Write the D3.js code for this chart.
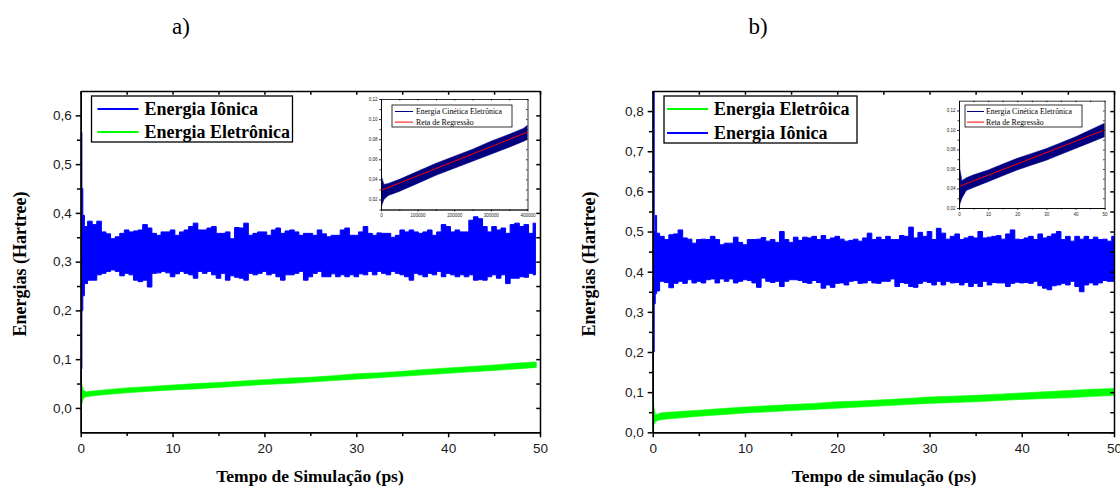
<!DOCTYPE html>
<html>
<head>
<meta charset="utf-8">
<script src="https://cdn.jsdelivr.net/npm/d3@7"></script>
<style>
body { margin: 0; background: #fff; }
</style>
</head>
<body>
<div id="chart"></div>
<script>
// energies are in mHartree (thousandths of Hartree)

// panel a) envelopes of the ionic energy, one pair every 0.5 ps (0.5 .. 49.5)
var ionHeadTimeA = [0, 0.1, 0.16, 0.3];
var ionHeadLoA = [50, 80, 200, 230];
var ionHeadHiA = [565, 565, 450, 395];
var ionHiA = [372,383,376,383,361,357,347,351,358,365, 361,363,365,376,369,358,354,361,361,365,
  354,361,365,372,379,365,365,369,372,358, 358,361,347,370,369,379,354,358,361,361,
  354,365,369,358,363,365,361,354,358,358, 354,365,357,351,354,354,365,369,354,354,
  361,372,358,354,359,358,358,350,354,365, 361,365,361,358,361,365,354,361,376,372,
  361,365,361,361,385,392,388,372,361,372, 365,369,358,376,379,372,376,358,379];
var ionLoA = [255,262,262,273,276,280,283,280,271,276, 273,262,259,262,248,276,277,280,277,269,
  275,280,276,273,266,280,276,280,273,266, 276,262,271,268,266,262,276,273,276,280,
  273,276,269,262,273,273,276,280,262,269, 276,280,269,269,275,269,273,269,273,269,
  275,273,280,273,280,276,273,280,276,273, 269,262,276,273,269,276,273,280,269,276,
  273,269,273,269,273,262,263,262,269,273, 266,273,255,266,266,269,268,276,273];

// panel a) electronic energy band
var eleTimeA = [0, 0.15, 0.3, 0.6, 1, 2.5, 5, 7.5, 10, 12.5, 15, 17.5, 20, 22.5, 25, 27.5, 30, 32.5, 35, 37.5, 40, 42.5, 45, 47.5, 49.6];
var eleLoA = [5,10,20,23,24,27,31,34,37,39,42,45,48,50,53,56,59,62,65,68,71,74,77,80,83];
var eleHiA = [53,45,36,33,34,37,41,44,47,50,52,55,58,61,63,66,70,72,75,79,82,85,88,92,94];

// panel b) envelopes of the ionic energy, one pair every 0.5 ps (0.5 .. 50)
var ionHeadTimeB = [0, 0.12, 0.2, 0.35];
var ionHeadLoB = [88, 200, 320, 345];
var ionHeadHiB = [900, 900, 500, 540];
var ionHiB = [496,488,480,492,494,504,484,481,471,480, 481,480,488,480,467,471,471,486,473,467,
  480,480,481,485,476,480,473,500,480,473, 486,478,486,484,488,480,490,480,484,488,
  481,476,478,481,476,484,496,480,486,480, 488,480,480,490,488,511,484,498,488,500,
  480,508,496,481,488,494,480,484,488,484, 500,484,486,488,490,481,494,504,481,480,
  484,488,480,494,484,488,494,500,480,488, 476,488,481,488,480,486,480,481,476,488];
var ionLoB = [352,376,373,360,371,376,371,380,372,376, 372,380,382,372,382,376,382,372,376,380,
  378,372,361,384,376,373,376,363,376,380, 380,378,373,371,378,373,359,367,361,371,
  372,367,376,378,371,372,378,372,371,376, 376,382,363,373,371,363,361,371,376,373,
  367,376,367,376,372,373,367,373,363,371, 363,376,367,373,372,372,363,371,374,372,
  373,371,376,365,359,355,365,367,371,367, 376,363,350,367,372,367,372,378,376,376];

// panel b) electronic energy band
var eleTimeB = [0, 0.15, 0.3, 0.6, 1, 2.5, 5, 7.5, 10, 12.5, 15, 17.5, 20, 22.5, 25, 27.5, 30, 32.5, 35, 37.5, 40, 42.5, 45, 47.5, 50];
var eleLoB = [6,20,26,30,32,35,40,44,48,51,54,57,60,63,66,69,72,74,76,79,82,84,86,89,92];
var eleHiB = [88,60,43,46,49,51,55,59,63,66,69,72,76,78,81,84,88,90,92,95,98,101,104,107,109];

// insets: electronic kinetic energy band + regression line
var insetTimeA = [0, 2000, 8000, 20000, 50000, 100000, 150000, 200000, 250000, 300000, 350000, 390000, 400000];
var insetLoA = [11,14,20,24,28,36,44,51,58,65,72,78,80];
var insetHiA = [52,42,35,36,40,48,56,63,70,78,85,91,94];
var regTimeA = [0, 400000];
var regA = [29, 87];

var insetTimeB = [0, 0.3, 1, 2.5, 5, 10, 15, 20, 25, 30, 35, 40, 45, 50];
var insetLoB = [20,24,30,38,41,47,53,59,64,69,75,81,87,93];
var insetHiB = [92,60,48,51,54,59,65,71,76,81,87,93,100,107];
var regTimeB = [0, 50];
var regB = [42, 100];

// tick labels
var xTicksMain = [0, 10, 20, 30, 40, 50];
var yTicksA = [0, 0.1, 0.2, 0.3, 0.4, 0.5, 0.6];
var yTicksB = [0, 0.1, 0.2, 0.3, 0.4, 0.5, 0.6, 0.7, 0.8];
var xTicksInsetA = [0, 100000, 200000, 300000, 400000];
var xTicksInsetB = [0, 10, 20, 30, 40, 50];
var yTicksInset = [0.02, 0.04, 0.06, 0.08, 0.10, 0.12];

var BLUE = "#0000ff", GREEN = "#00ff00", NAVY = "#000080", RED = "#ff0000";
var SANS = "'Liberation Sans', Arial, sans-serif";
var SERIF = "'Liberation Serif', 'Times New Roman', serif";

function band(times, lo, hi) {
  return times.map(function (t, i) { return { t: t, lo: lo[i] / 1000, hi: hi[i] / 1000 }; });
}
function gridTimes(n) {
  return d3.range(1, n + 1).map(function (i) { return i / 2; });
}
function comma(fmt) {
  return function (d) { return d3.format(fmt)(d).replace(".", ","); };
}

var svg = d3.select("#chart").append("svg")
  .attr("width", 1120)
  .attr("height", 487)
  .style("background", "#fff");

function styleAxis(sel, w, fontSize) {
  sel.select(".domain").attr("stroke", "#000").attr("stroke-width", w);
  sel.selectAll(".tick line").attr("stroke", "#000").attr("stroke-width", w);
  sel.selectAll(".tick text").attr("fill", "#1a1a1a")
    .style("font-family", SANS).style("font-size", fontSize + "px");
}

function drawFrame(o) {
  var x = d3.scaleLinear().domain(o.xDomain).range([o.left, o.right]);
  var y = d3.scaleLinear().domain(o.yDomain).range([o.bottom, o.top]);
  var g = svg.append("g");

  g.append("rect").attr("x", o.left).attr("y", o.top)
    .attr("width", o.right - o.left).attr("height", o.bottom - o.top)
    .attr("fill", "#fff");

  g.append("clipPath").attr("id", o.id).append("rect")
    .attr("x", o.left).attr("y", o.top)
    .attr("width", o.right - o.left).attr("height", o.bottom - o.top);
  var plot = g.append("g").attr("clip-path", "url(#" + o.id + ")");

  o.series.forEach(function (s) {
    var area = d3.area()
      .curve(s.curve || d3.curveLinear)
      .x(function (d) { return x(d.t); })
      .y0(function (d) { return y(d.lo); })
      .y1(function (d) { return y(d.hi); });
    plot.append("path").datum(s.data)
      .attr("d", area)
      .attr("fill", s.color)
      .attr("stroke", s.color)
      .attr("stroke-width", s.sw);
  });
  if (o.reg) {
    plot.append("path").datum(o.reg)
      .attr("d", d3.line().x(function (d) { return x(d.t); }).y(function (d) { return y(d.v); }))
      .attr("fill", "none").attr("stroke", RED).attr("stroke-width", o.regW);
  }

  var w = o.axisW, ts = o.tick, fs = o.font;
  var bottom = g.append("g").attr("transform", "translate(0," + o.bottom + ")")
    .call(d3.axisBottom(x).tickValues(o.xTicks).tickFormat(o.xFormat).tickSize(ts).tickSizeOuter(0).tickPadding(o.xPad));
  styleAxis(bottom, w, fs);
  var bottomMinor = g.append("g").attr("transform", "translate(0," + o.bottom + ")")
    .call(d3.axisBottom(x).tickValues(o.xMinor).tickFormat("").tickSize(ts * 0.75).tickSizeOuter(0));
  styleAxis(bottomMinor, w, fs);

  var left = g.append("g").attr("transform", "translate(" + o.left + ",0)")
    .call(d3.axisLeft(y).tickValues(o.yTicks).tickFormat(o.yFormat).tickSize(ts).tickSizeOuter(0).tickPadding(o.yPad));
  styleAxis(left, w, fs);
  var leftMinor = g.append("g").attr("transform", "translate(" + o.left + ",0)")
    .call(d3.axisLeft(y).tickValues(o.yMinor).tickFormat("").tickSize(ts * 0.75).tickSizeOuter(0));
  styleAxis(leftMinor, w, fs);

  var top = g.append("g").attr("transform", "translate(0," + o.top + ")")
    .call(d3.axisTop(x).tickValues(o.xTicks.concat(o.xMinor)).tickFormat("").tickSize(-ts * 0.75).tickSizeOuter(0));
  styleAxis(top, w, fs);
  var right = g.append("g").attr("transform", "translate(" + o.right + ",0)")
    .call(d3.axisRight(y).tickValues(o.yTicks.concat(o.yMinor)).tickFormat("").tickSize(-ts * 0.75).tickSizeOuter(0));
  styleAxis(right, w, fs);

  return g;
}

function drawLegend(o) {
  var g = svg.append("g");
  g.append("rect").attr("x", o.x).attr("y", o.y).attr("width", o.w).attr("height", o.h)
    .attr("fill", "#fff").attr("stroke", "#000").attr("stroke-width", o.bw);
  o.items.forEach(function (it, i) {
    var cy = o.y + o.first + i * o.gap;
    g.append("line").attr("x1", o.x + o.l1).attr("x2", o.x + o.l2)
      .attr("y1", cy).attr("y2", cy)
      .attr("stroke", it.color).attr("stroke-width", o.lw);
    g.append("text").attr("x", o.x + o.tx).attr("y", cy)
      .attr("dy", "0.35em")
      .style("font-family", SERIF).style("font-size", o.fs + "px")
      .style("font-weight", o.weight)
      .text(it.label);
  });
}

// ---------- panel a) ----------
var ionA = band(ionHeadTimeA, ionHeadLoA, ionHeadHiA).concat(band(gridTimes(99), ionLoA, ionHiA));
var eleA = band(eleTimeA, eleLoA, eleHiA);

drawFrame({
  id: "clipA", left: 80.7, right: 540, top: 91, bottom: 432.3,
  xDomain: [0, 50], yDomain: [-0.05, 0.65],
  series: [{ data: ionA, color: BLUE, sw: 1, curve: d3.curveStep }, { data: eleA, color: GREEN, sw: 0.6 }],
  xTicks: xTicksMain, xMinor: [5, 15, 25, 35, 45], xFormat: d3.format("d"),
  yTicks: yTicksA, yMinor: [0.05, 0.15, 0.25, 0.35, 0.45, 0.55], yFormat: comma(".1f"),
  axisW: 1.5, tick: 5, font: 13.5, xPad: 6, yPad: 4
});

drawLegend({
  x: 91.5, y: 96, w: 201, h: 46, bw: 1.3, first: 13, gap: 23,
  l1: 6, l2: 47, tx: 53, lw: 2, fs: 18, weight: "bold",
  items: [{ label: "Energia Iônica", color: BLUE }, { label: "Energia Eletrônica", color: GREEN }]
});

// inset a)
drawFrame({
  id: "clipIA", left: 381, right: 527.5, top: 99, bottom: 209.5,
  xDomain: [0, 400000], yDomain: [0.01, 0.12],
  series: [{ data: band(insetTimeA, insetLoA, insetHiA), color: NAVY, sw: 0.5 }],
  reg: regTimeA.map(function (t, i) { return { t: t, v: regA[i] / 1000 }; }), regW: 1,
  xTicks: xTicksInsetA, xMinor: [50000, 150000, 250000, 350000], xFormat: d3.format("d"),
  yTicks: yTicksInset, yMinor: [0.01, 0.03, 0.05, 0.07, 0.09, 0.11], yFormat: comma(".2f"),
  axisW: 0.8, tick: 2, font: 4.5, xPad: 2.5, yPad: 1.5
});

drawLegend({
  x: 392, y: 105, w: 120, h: 22, bw: 0.8, first: 6.5, gap: 10.6,
  l1: 3, l2: 21, tx: 24, lw: 1, fs: 7.8, weight: "normal",
  items: [{ label: "Energia Cinética Eletrônica", color: NAVY }, { label: "Reta de Regressão", color: RED }]
});

// ---------- panel b) ----------
var ionB = band(ionHeadTimeB, ionHeadLoB, ionHeadHiB).concat(band(gridTimes(100), ionLoB, ionHiB));
var eleB = band(eleTimeB, eleLoB, eleHiB);

drawFrame({
  id: "clipB", left: 652.7, right: 1114, top: 91, bottom: 432.3,
  xDomain: [0, 50], yDomain: [0, 0.85],
  series: [{ data: ionB, color: BLUE, sw: 1, curve: d3.curveStep }, { data: eleB, color: GREEN, sw: 0.6 }],
  xTicks: xTicksMain, xMinor: [5, 15, 25, 35, 45], xFormat: d3.format("d"),
  yTicks: yTicksB, yMinor: [0.05, 0.15, 0.25, 0.35, 0.45, 0.55, 0.65, 0.75], yFormat: comma(".1f"),
  axisW: 1.5, tick: 5, font: 13.5, xPad: 6, yPad: 4
});

drawLegend({
  x: 664, y: 96, w: 193, h: 47, bw: 1.3, first: 13, gap: 24,
  l1: 3, l2: 44, tx: 50, lw: 2, fs: 18, weight: "bold",
  items: [{ label: "Energia Eletrôica", color: GREEN }, { label: "Energia Iônica", color: BLUE }]
});

// inset b)
drawFrame({
  id: "clipIB", left: 959, right: 1104.6, top: 100.7, bottom: 208,
  xDomain: [0, 50], yDomain: [0.02, 0.13],
  series: [{ data: band(insetTimeB, insetLoB, insetHiB), color: NAVY, sw: 0.5 }],
  reg: regTimeB.map(function (t, i) { return { t: t, v: regB[i] / 1000 }; }), regW: 1,
  xTicks: xTicksInsetB, xMinor: [5, 15, 25, 35, 45], xFormat: d3.format("d"),
  yTicks: yTicksInset, yMinor: [0.03, 0.05, 0.07, 0.09, 0.11], yFormat: comma(".2f"),
  axisW: 0.8, tick: 2, font: 4.5, xPad: 2.5, yPad: 1.5
});

drawLegend({
  x: 965, y: 105, w: 117, h: 22, bw: 0.8, first: 6.5, gap: 10.6,
  l1: 2, l2: 19, tx: 21, lw: 1, fs: 7.8, weight: "normal",
  items: [{ label: "Energia Cinética Eletrônica", color: NAVY }, { label: "Reta de Regressão", color: RED }]
});

// ---------- titles ----------
function label(x, y, txt, size, weight, rot) {
  svg.append("text")
    .attr("transform", "translate(" + x + "," + y + ")" + (rot ? " rotate(-90)" : ""))
    .attr("text-anchor", "middle")
    .attr("dy", "0.35em")
    .style("font-family", SERIF).style("font-size", size + "px").style("font-weight", weight)
    .text(txt);
}
label(181, 26, "a)", 23, "normal");
label(758, 26, "b)", 23, "normal");
label(19.5, 264, "Energias (Hartree)", 18, "bold", true);
label(589, 264, "Energias (Hartree)", 18, "bold", true);
label(310, 476, "Tempo de Simulação (ps)", 17.5, "bold");
label(884, 476, "Tempo de simulação (ps)", 17.5, "bold");
</script>
</body>
</html>
